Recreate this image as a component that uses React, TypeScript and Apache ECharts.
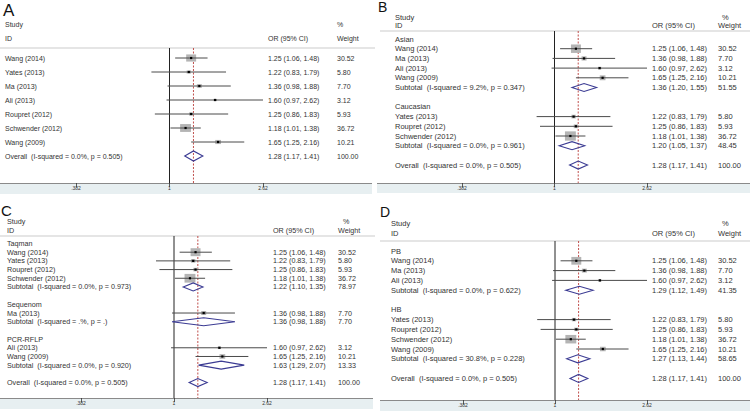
import React, { useEffect, useRef } from "react";
import * as echarts from "echarts";

// ---------- data ----------
const studyNames = ["Wang (2014)", "Yates (2013)", "Ma (2013)", "Ali (2013)", "Roupret (2012)", "Schwender (2012)", "Wang (2009)"];
const studyOR = [1.25, 1.22, 1.36, 1.6, 1.25, 1.18, 1.65];
const studyLower = [1.06, 0.83, 0.98, 0.97, 0.86, 1.01, 1.25];
const studyUpper = [1.48, 1.79, 1.88, 2.62, 1.83, 1.38, 2.16];
const studyWeight = [30.52, 5.8, 7.7, 3.12, 5.93, 36.72, 10.21];

const overallHet = "I-squared = 0.0%, p = 0.505";
const overallOR = 1.28;
const overallLower = 1.17;
const overallUpper = 1.41;
const overallWeight = 100.0;

const orderA = [0, 1, 2, 3, 4, 5, 6];

const groupNamesB = ["Asian", "Caucasian"];
const groupMembersB = [[0, 2, 3, 6], [1, 4, 5]];
const subHetB = ["I-squared = 9.2%, p = 0.347", "I-squared = 0.0%, p = 0.961"];
const subORB = [1.36, 1.2];
const subLowerB = [1.2, 1.05];
const subUpperB = [1.55, 1.37];
const subWeightB = [51.55, 48.45];

const groupNamesC = ["Taqman", "Sequenom", "PCR-RFLP"];
const groupMembersC = [[0, 1, 4, 5], [2], [3, 6]];
const subHetC = ["I-squared = 0.0%, p = 0.973", "I-squared = .%, p = .", "I-squared = 0.0%, p = 0.920"];
const subORC = [1.22, 1.36, 1.63];
const subLowerC = [1.1, 0.98, 1.29];
const subUpperC = [1.35, 1.88, 2.07];
const subWeightC = [78.97, 7.7, 13.33];

const groupNamesD = ["PB", "HB"];
const groupMembersD = [[0, 2, 3], [1, 4, 5, 6]];
const subHetD = ["I-squared = 0.0%, p = 0.622", "I-squared = 30.8%, p = 0.228"];
const subORD = [1.29, 1.27];
const subLowerD = [1.12, 1.13];
const subUpperD = [1.49, 1.44];
const subWeightD = [41.35, 58.65];

const xTickLabels = [".382", "1", "2.62"];
const LOG_BASE = 2.62;

// ---------- helpers ----------
const FONT = '"Liberation Sans", Arial, Helvetica, sans-serif';
const TEXT = "#333333";
const toAxis = (v: number) => Math.log(v) / Math.log(LOG_BASE);
const f2 = (v: number) => v.toFixed(2);

type Row = { kind: string; label: string; or?: number; lo?: number; hi?: number; w?: number };

function studyRow(i: number): Row {
  return { kind: "study", label: studyNames[i], or: studyOR[i], lo: studyLower[i], hi: studyUpper[i], w: studyWeight[i] };
}
function overallRow(): Row {
  return { kind: "overall", label: "Overall  (" + overallHet + ")", or: overallOR, lo: overallLower, hi: overallUpper, w: overallWeight };
}
function buildGrouped(names: string[], members: number[][], het: string[], or: number[], lo: number[], hi: number[], w: number[]): Row[] {
  const rows: Row[] = [];
  names.forEach((n, g) => {
    rows.push({ kind: "header", label: n });
    members[g].forEach((i) => rows.push(studyRow(i)));
    rows.push({ kind: "subtotal", label: "Subtotal  (" + het[g] + ")", or: or[g], lo: lo[g], hi: hi[g], w: w[g] });
    rows.push({ kind: "blank", label: "" });
  });
  rows.push(overallRow());
  return rows;
}

const rowsA: Row[] = [...orderA.map(studyRow), overallRow()];
const rowsB = buildGrouped(groupNamesB, groupMembersB, subHetB, subORB, subLowerB, subUpperB, subWeightB);
const rowsC = buildGrouped(groupNamesC, groupMembersC, subHetC, subORC, subLowerC, subUpperC, subWeightC);
const rowsD = buildGrouped(groupNamesD, groupMembersD, subHetD, subORD, subLowerD, subUpperD, subWeightD);

const panels = [
  { title: "A", titleX: 3, titleY: 2, titleSize: 17, left: 76, top: 48, width: 187, height: 135, firstRowY: 58, rowStep: 14,
    labelX: 5, orX: 268, wX: 337, pctX: 337, studyY: 24, idY: 38, hl: [0, 375], band: [0, 183, 372, 11], font: 7, dH: 10, sqAspect: 0.72, rows: rowsA },
  { title: "B", titleX: 378, titleY: 0, titleSize: 14, left: 462, top: 31, width: 185, height: 152, firstRowY: 39, rowStep: 9.7,
    labelX: 395, orX: 652, wX: 718, pctX: 722, studyY: 17, idY: 25.5, hl: [380, 750], band: [377, 183, 373, 10], font: 7.5, dH: 8, sqAspect: 0.85, rows: rowsB },
  { title: "C", titleX: 1, titleY: 203, titleSize: 15, left: 81, top: 236, width: 186, height: 162, firstRowY: 243.5, rowStep: 8.69,
    labelX: 7, orX: 273, wX: 338, pctX: 343, studyY: 221, idY: 230, hl: [0, 375], band: [0, 398, 373, 11], font: 7.2, dH: 8, sqAspect: 0.8, rows: rowsC },
  { title: "D", titleX: 380, titleY: 205, titleSize: 14, left: 463, top: 241, width: 184, height: 159, firstRowY: 251, rowStep: 9.8,
    labelX: 391, orX: 652, wX: 718, pctX: 722, studyY: 223, idY: 233, hl: [380, 750], band: [380, 400, 370, 11], font: 7.5, dH: 8, sqAspect: 0.78, rows: rowsD },
];

function buildOption() {
  const grid: any[] = [];
  const xAxis: any[] = [];
  const yAxis: any[] = [];
  const series: any[] = [];
  const graphic: any[] = [];

  panels.forEach((p, pi) => {
    grid.push({ left: p.left, top: p.top, width: p.width, height: p.height });
    xAxis.push({
      type: "value", gridIndex: pi, min: -1, max: 1, interval: 1, z: 10, position: "bottom",
      axisLine: { show: false, onZero: false },
      axisTick: { show: true, length: 4, lineStyle: { color: "#333", width: 0.8 } },
      axisLabel: { fontSize: 5, margin: 2, color: "#333", fontFamily: FONT, formatter: (v: number) => xTickLabels[Math.round(v) + 1] },
      splitLine: { show: false },
    });
    const yMin = -(p.firstRowY - p.top) / p.rowStep;
    yAxis.push({ type: "value", gridIndex: pi, inverse: true, min: yMin, max: yMin + p.height / p.rowStep, show: false, axisLine: { onZero: false } });

    // reference lines
    series.push({
      type: "custom", xAxisIndex: pi, yAxisIndex: pi, clip: false, z: 1,
      data: [[toAxis(1), 0], [toAxis(overallOR), 1]],
      renderItem: (params: any, api: any) => {
        const cs = params.coordSys;
        const x = api.coord([api.value(0), 0])[0];
        const dashed = api.value(1) === 1;
        return {
          type: "line",
          shape: { x1: x, y1: cs.y, x2: x, y2: cs.y + cs.height },
          style: dashed
            ? { stroke: "#c0504d", lineWidth: 1, lineDash: [2, 1.5] }
            : { stroke: "#222", lineWidth: 1 },
        };
      },
    });

    const rows = p.rows;
    series.push({
      type: "custom", xAxisIndex: pi, yAxisIndex: pi, clip: false, z: 3,
      data: rows.map((r, i) => [i, r.or ? toAxis(r.or) : 0, r.lo ? toAxis(r.lo) : 0, r.hi ? toAxis(r.hi) : 0, r.w || 0]),
      renderItem: (params: any, api: any) => {
        const r = rows[params.dataIndex];
        const y = api.coord([0, api.value(0)])[1];
        const children: any[] = [];
        const txt = (x: number, s: string) => ({
          type: "text",
          style: { x, y, text: s, fill: TEXT, fontSize: p.font, fontFamily: FONT, align: "left", verticalAlign: "middle" },
        });
        if (r.label) children.push(txt(p.labelX, r.label));
        if (r.kind === "study" || r.kind === "subtotal" || r.kind === "overall") {
          const xc = api.coord([api.value(1), api.value(0)])[0];
          const xl = api.coord([api.value(2), api.value(0)])[0];
          const xr = api.coord([api.value(3), api.value(0)])[0];
          if (r.kind === "study") {
            const sw = 1.8 * Math.sqrt(api.value(4));
            const sh = sw * p.sqAspect;
            children.push({ type: "rect", shape: { x: xc - sw / 2, y: y - sh / 2, width: sw, height: sh }, style: { fill: "#b4b4b4" } });
            children.push({ type: "line", shape: { x1: xl, y1: y, x2: xr, y2: y }, style: { stroke: "#4a4a4a", lineWidth: 1 } });
            children.push({ type: "rect", shape: { x: xc - 1.1, y: y - 1.1, width: 2.2, height: 2.2 }, style: { fill: "#000" } });
          } else {
            const h = p.dH / 2;
            children.push({
              type: "polygon",
              shape: { points: [[xl, y], [xc, y - h], [xr, y], [xc, y + h]] },
              style: { fill: "none", stroke: "#3b3b93", lineWidth: 1.1 },
            });
          }
          children.push(txt(p.orX, `${f2(r.or!)} (${f2(r.lo!)}, ${f2(r.hi!)})`));
          children.push(txt(p.wX, f2(r.w!)));
        }
        return { type: "group", children };
      },
    });

    // static graphics
    const b = p.band;
    graphic.push({ type: "rect", z: -10, shape: { x: b[0], y: b[1], width: b[2], height: b[3] }, style: { fill: "#e7eff1" } });
    graphic.push({ type: "line", z: -5, shape: { x1: b[0], y1: b[1] + 0.5, x2: b[0] + b[2], y2: b[1] + 0.5 }, style: { stroke: "#8a8a8a", lineWidth: 1 } });
    graphic.push({ type: "line", z: -5, shape: { x1: p.hl[0], y1: p.top, x2: p.hl[1], y2: p.top }, style: { stroke: "#dcdcdc", lineWidth: 1.5 } });
    graphic.push({ type: "text", style: { x: p.titleX, y: p.titleY, text: p.title, fill: "#111", fontSize: p.titleSize, fontFamily: FONT, verticalAlign: "top" } });
    const head = (x: number, y: number, s: string) => ({
      type: "text", style: { x, y, text: s, fill: TEXT, fontSize: p.font, fontFamily: FONT, verticalAlign: "middle" },
    });
    graphic.push(head(p.labelX, p.studyY, "Study"));
    graphic.push(head(p.labelX, p.idY, "ID"));
    graphic.push(head(p.orX, p.idY, "OR (95% CI)"));
    graphic.push(head(p.pctX, p.studyY, "%"));
    graphic.push(head(p.wX, p.idY, "Weight"));
  });

  return { animation: false, backgroundColor: "#ffffff", grid, xAxis, yAxis, series, graphic };
}

export default function App() {
  const ref = useRef<HTMLDivElement>(null);
  useEffect(() => {
    if (!ref.current) return;
    const chart = echarts.init(ref.current, null, { renderer: "svg" });
    chart.setOption(buildOption() as any);
    return () => chart.dispose();
  }, []);
  return <div ref={ref} style={{ width: 750, height: 411, position: "absolute", left: 0, top: 0 }} />;
}
